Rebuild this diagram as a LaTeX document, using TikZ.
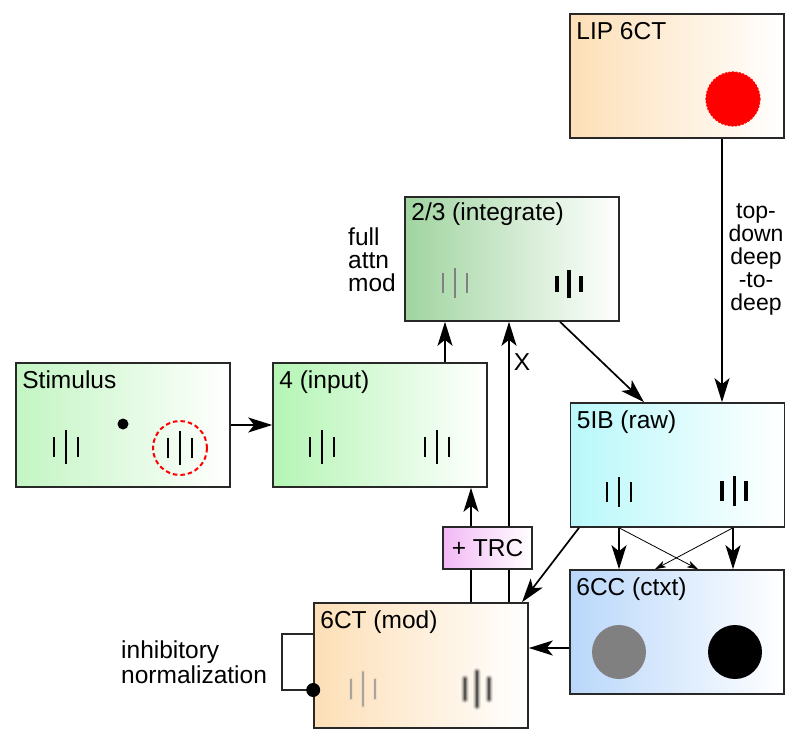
\documentclass[tikz,border=0pt]{standalone}
\usepackage{fontspec}
\setmainfont{Liberation Sans}
\usetikzlibrary{arrows.meta}
\definecolor{stimC}{RGB}{195,245,195}
\definecolor{inpC}{RGB}{180,245,180}
\definecolor{intC}{RGB}{160,212,160}
\definecolor{orC}{RGB}{253,223,183}
\definecolor{cyC}{RGB}{185,248,250}
\definecolor{blC}{RGB}{185,215,250}
\definecolor{pkC}{RGB}{242,185,245}
\definecolor{edgeC}{RGB}{40,40,40}
% x, y, side half length, mid half length, side width, mid width, colour
\newcommand\mybars[7]{%
  \draw[#7, line width=#5] (#1-12,#2-#3) -- (#1-12,#2+#3) (#1+12,#2-#3) -- (#1+12,#2+#3);
  \draw[#7, line width=#6] (#1,#2-#4) -- (#1,#2+#4);}
% blurred version: x, y, side half, mid half, width, colour
\newcommand\blurbars[6]{%
  \foreach \ww/\oo in {2.4/0.10,1.8/0.16,1.2/0.28,0.7/0.5}{%
    \draw[#6, line cap=round, opacity=\oo, line width=\ww*#5] (#1-12,#2-#3) -- (#1-12,#2+#3) (#1+12,#2-#3) -- (#1+12,#2+#3) (#1,#2-#4) -- (#1,#2+#4);}}
\begin{document}
\begin{tikzpicture}[x=1pt,y=-1pt,
  font=\fontsize{24.5}{23}\selectfont,
  box/.style={draw=edgeC, line width=1.6pt, minimum width=214pt, minimum height=124pt, inner sep=0pt, right color=white},
  lbl/.style={anchor=base west, inner sep=0pt},
  arr/.style={draw=black, line width=1.7pt, -{Stealth[length=24pt,width=15pt,inset=6pt]}},
  thinarr/.style={draw=black, line width=0.8pt, -{Stealth[length=11pt,width=7pt,inset=3pt]}},
  plain/.style={draw=black, line width=1.7pt}]
\useasboundingbox (0,0) rectangle (799,746);
\fill[white] (0,0) rectangle (799,746);

% boxes
\node[box, left color=stimC] (stim) at (123,425) {};
\node[box, left color=inpC] (inp) at (380,425) {};
\node[box, left color=intC] (integ) at (512,259) {};
\node[box, left color=orC] (lip) at (677,76) {};
\node[box, left color=cyC] (raw) at (677.5,465) {};
\node[box, left color=blC] (ctxt) at (677,632) {};
\node[box, left color=orC, minimum height=125pt] (mod) at (421,665.5) {};

% box titles
\node[lbl] (tstim) at ([shift={(7,26)}]stim.north west) {Stimulus};
\node[lbl] (tinp) at ([shift={(7,26)}]inp.north west) {4 (input)};
\node[lbl] (tint) at ([shift={(7,24)}]integ.north west) {2/3 (integrate)};
\node[lbl] (tlip) at ([shift={(7,26)}]lip.north west) {LIP 6CT};
\node[lbl] (traw) at ([shift={(7,26)}]raw.north west) {5IB (raw)};
\node[lbl] (tctxt) at ([shift={(7,26)}]ctxt.north west) {6CC (ctxt)};
\node[lbl] (tmod) at ([shift={(7,26)}]mod.north west) {6CT (mod)};

% contents
\mybars{66}{447}{10}{17}{1.6pt}{1.6pt}{black}
\fill[black] (123,424) circle[radius=5.5];
\mybars{180}{448}{10}{17}{1.6pt}{1.6pt}{black}
\draw[red, line width=2pt, dash pattern=on 4.5pt off 3pt] (180,448) circle[radius=27];
\mybars{322}{447}{10}{17}{1.6pt}{1.6pt}{black}
\mybars{437}{447}{10}{17}{1.6pt}{1.6pt}{black}
\mybars{455}{283}{10}{15}{1.3pt}{1.8pt}{black!50}
\mybars{569}{284}{8}{14}{4pt}{3.3pt}{black}
\mybars{619}{492}{10}{15}{1.6pt}{1.6pt}{black}
\mybars{734}{491}{10}{15}{4pt}{3pt}{black}
\blurbars{363}{689}{9.5}{17}{1.6pt}{black!45}
\blurbars{477}{689}{10}{17}{3.6pt}{black!90}
\fill[red] (733,99) circle[radius=27];
\draw[red, line width=1.2pt, dash pattern=on 2pt off 1.5pt] (733,99) circle[radius=27];
\fill[black!50] (619,652) circle[radius=27];
\fill[black] (735,652) circle[radius=27];

% side texts
\node[anchor=west, align=left, inner sep=0pt] (fam) at (348,260) {full\\attn\\mod};
\node[align=center, inner sep=0pt, font=\fontsize{23}{23}\selectfont] (tdd) at (756,259) {top-\\down\\deep\\-to-\\deep};
\node[anchor=west, align=left, inner sep=0pt, font=\fontsize{24.5}{25}\selectfont] (inh) at (121,662) {inhibitory\\normalization};

% connectors
\draw[arr] (stim.east) -- (inp.west);
\coordinate (a1) at ([shift={(65,0)}]inp.north);
\draw[arr] (a1) -- (a1 |- integ.south);
\coordinate (b1) at ([shift={(50,0)}]mod.north);
\draw[arr] (b1) -- (b1 |- inp.south);
\coordinate (b2) at ([shift={(88,0)}]mod.north);
\draw[arr] (b2) -- (b2 |- integ.south);
\node (xl) at (522,362) {X};
\coordinate (c1) at ([shift={(48,0)}]integ.south);
\coordinate (c2) at ([shift={(-33.5,0)}]raw.north);
\draw[arr] (c1) -- (c2);
\coordinate (d1) at ([shift={(45,0)}]lip.south);
\draw[arr] (d1) -- (d1 |- raw.north);
\coordinate (e1) at ([shift={(-98.5,0)}]raw.south);
\coordinate (e2) at ([shift={(101,0)}]mod.north);
\draw[arr] (e1) -- (e2);
\coordinate (f1) at ([shift={(-58.5,0)}]raw.south);
\coordinate (f2) at ([shift={(55.5,0)}]raw.south);
\draw[arr] (f1) -- (f1 |- ctxt.north);
\draw[arr] (f2) -- (f2 |- ctxt.north);
\draw[thinarr] (f1) -- ([shift={(21,0)}]ctxt.north);
\draw[thinarr] (f2) -- ([shift={(-22,0)}]ctxt.north);
\coordinate (g1) at ([shift={(0,16)}]ctxt.west);
\draw[arr] (g1) -- (g1 -| mod.east);
\coordinate (h1) at ([shift={(0,-31.5)}]mod.west);
\coordinate (h2) at ([shift={(0,24.5)}]mod.west);
\coordinate (hL) at (282,634);
\coordinate (hB) at (282,690);
\draw[draw=edgeC, line width=1.6pt] (h1) -- (hL) -- (hB) -- (h2);
\fill[black] (h2) circle[radius=7];

% TRC box on top
\node[draw=edgeC, line width=1.6pt, minimum width=89pt, minimum height=42pt, inner sep=0pt, left color=pkC, right color=white] (trc) at (487.5,548) {+ TRC};
\end{tikzpicture}
\end{document}
